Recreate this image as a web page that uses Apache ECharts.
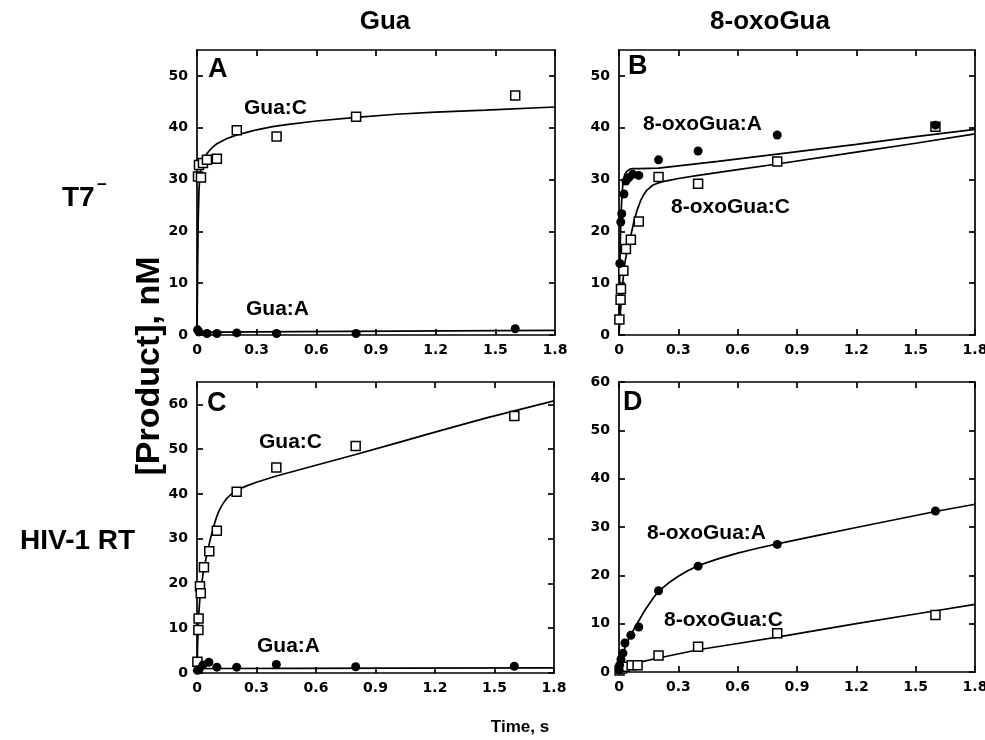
<!DOCTYPE html>
<html><head><meta charset="utf-8">
<script src="https://cdn.jsdelivr.net/npm/echarts@6/dist/echarts.min.js"></script>
<style>html,body{margin:0;padding:0;background:#fff}#c{width:985px;height:740px}</style>
</head><body><div id="c"></div>
<script>
// ---- tick labels ----
const xTicks = [0, 0.3, 0.6, 0.9, 1.2, 1.5, 1.8];
const yTicksTop = [0, 10, 20, 30, 40, 50];
const yTicksC = [0, 10, 20, 30, 40, 50, 60];
const yTicksD = [0, 10, 20, 30, 40, 50, 60];
const yMaxes = [55, 55, 65, 60];

// ---- Panel A (T7-, Gua) ----
const aGuaC_t = [0.005, 0.01, 0.02, 0.03, 0.05, 0.1, 0.2, 0.4, 0.8, 1.6];
const aGuaC_y = [30.6, 32.8, 30.4, 33.2, 33.8, 34.0, 39.5, 38.3, 42.1, 46.2];
const aGuaA_t = [0.003, 0.01, 0.05, 0.1, 0.2, 0.4, 0.8, 1.6];
const aGuaA_y = [1.0, 0.6, 0.3, 0.3, 0.4, 0.3, 0.3, 1.2];
const aFitC_t = [0, 0.003, 0.006, 0.01, 0.015, 0.02, 0.03, 0.04, 0.05, 0.065, 0.08, 0.1, 0.12, 0.15, 0.2, 0.25, 0.3, 0.38, 0.45, 0.6, 0.8, 1.0, 1.2, 1.45, 1.8];
const aFitC_y = [0, 12, 22, 28, 31, 32.3, 33.5, 34.3, 35, 35.7, 36.3, 36.9, 37.3, 37.9, 38.6, 39.1, 39.6, 40.2, 40.6, 41.3, 42, 42.6, 43, 43.4, 44.0];
const aFitA_t = [0, 0.005, 0.02, 0.1, 0.5, 1.0, 1.8];
const aFitA_y = [0, 0.4, 0.5, 0.55, 0.65, 0.75, 0.9];

// ---- Panel B (T7-, 8-oxoGua) ----
const bOxoA_t = [0.004, 0.009, 0.014, 0.025, 0.035, 0.05, 0.07, 0.1, 0.2, 0.4, 0.8, 1.6];
const bOxoA_y = [13.8, 21.8, 23.4, 27.2, 29.7, 30.4, 31.0, 30.8, 33.8, 35.5, 38.6, 40.5];
const bOxoC_t = [0.002, 0.008, 0.01, 0.022, 0.035, 0.06, 0.1, 0.2, 0.4, 0.8, 1.6];
const bOxoC_y = [3.0, 6.8, 8.9, 12.4, 16.6, 18.4, 21.9, 30.5, 29.2, 33.5, 40.2];
const bFitA_t = [0, 0.003, 0.006, 0.01, 0.015, 0.02, 0.025, 0.03, 0.038, 0.045, 0.055, 0.07, 0.1, 0.2, 0.5, 0.8, 1.2, 1.5, 1.8];
const bFitA_y = [0, 10, 17, 23, 27, 29.3, 30.4, 31.0, 31.5, 31.8, 32.0, 32.1, 32.1, 32.2, 33.5, 34.9, 36.8, 38.3, 39.7];
const bFitC_t = [0, 0.005, 0.01, 0.02, 0.03, 0.045, 0.06, 0.075, 0.09, 0.11, 0.125, 0.14, 0.155, 0.17, 0.195, 0.22, 0.26, 0.3, 0.4, 0.6, 0.8, 1.2, 1.5, 1.8];
const bFitC_y = [0, 3, 6, 10.5, 14, 17, 19.2, 21.8, 23.9, 26, 27.1, 27.9, 28.4, 28.9, 29.3, 29.6, 29.9, 30.2, 30.8, 31.9, 33.0, 35.3, 37.0, 38.8];

// ---- Panel C (HIV-1 RT, Gua) ----
const cGuaC_t = [0.002, 0.007, 0.008, 0.015, 0.019, 0.035, 0.062, 0.1, 0.2, 0.4, 0.8, 1.6];
const cGuaC_y = [2.5, 9.6, 12.2, 19.4, 17.8, 23.6, 27.2, 31.8, 40.5, 45.9, 50.7, 57.4];
const cGuaA_t = [0.002, 0.01, 0.03, 0.06, 0.1, 0.2, 0.4, 0.8, 1.6];
const cGuaA_y = [0.6, 0.8, 1.8, 2.4, 1.3, 1.3, 1.9, 1.4, 1.5];
const cFitC_t = [0, 0.003, 0.007, 0.015, 0.03, 0.045, 0.06, 0.07, 0.08, 0.09, 0.1, 0.11, 0.12, 0.135, 0.15, 0.175, 0.2, 0.25, 0.3, 0.4, 0.6, 0.8, 1.0, 1.2, 1.46, 1.8];
const cFitC_y = [0, 6, 12, 17, 22, 25.5, 28.5, 30.4, 32, 33.6, 35, 36.1, 37, 38.1, 39, 40, 40.8, 41.8, 42.6, 44, 46.4, 48.8, 51.3, 53.8, 57, 60.8];
const cFitA_t = [0, 0.005, 0.02, 0.1, 0.5, 1.0, 1.8];
const cFitA_y = [0, 0.7, 0.95, 1.0, 1.05, 1.1, 1.15];

// ---- Panel D (HIV-1 RT, 8-oxoGua) ----
const dOxoA_t = [0.001, 0.003, 0.01, 0.02, 0.03, 0.06, 0.1, 0.2, 0.4, 0.8, 1.6];
const dOxoA_y = [0.4, 1.4, 2.6, 3.9, 6.0, 7.6, 9.3, 16.8, 21.9, 26.4, 33.3];
const dOxoC_t = [0.003, 0.015, 0.03, 0.064, 0.094, 0.2, 0.4, 0.8, 1.6];
const dOxoC_y = [0.3, 0.7, 1.1, 1.4, 1.4, 3.4, 5.2, 8.0, 11.8];
const dFitA_t = [0, 0.01, 0.02, 0.03, 0.05, 0.075, 0.1, 0.125, 0.15, 0.175, 0.2, 0.25, 0.3, 0.35, 0.4, 0.5, 0.6, 0.7, 0.8, 1.0, 1.2, 1.6, 1.8];
const dFitA_y = [0, 2.0, 3.6, 5.0, 7.0, 8.8, 10.6, 12.4, 13.9, 15.4, 16.7, 18.4, 19.8, 21.0, 22.0, 23.4, 24.6, 25.6, 26.5, 28.2, 29.9, 33.2, 34.7];
const dFitC_t = [0, 0.01, 0.03, 0.06, 0.1, 0.2, 0.4, 0.6, 0.8, 1.0, 1.2, 1.5, 1.8];
const dFitC_y = [0, 0.6, 1.2, 1.6, 2.0, 2.9, 4.6, 5.9, 7.2, 8.6, 10.0, 12.0, 14.0];

const zip = (t, y) => t.map((v, i) => [v, y[i]]);

const grids = [
  {left: 197, top: 50, width: 358, height: 285, outerBoundsMode: 'none'},
  {left: 619, top: 50, width: 356, height: 285, outerBoundsMode: 'none'},
  {left: 197, top: 382, width: 357, height: 291, outerBoundsMode: 'none'},
  {left: 619, top: 382, width: 356, height: 290, outerBoundsMode: 'none'}
];
const yTickSets = [yTicksTop, yTicksTop, yTicksC, yTicksD];

const lineSt = {color: '#000', width: 1.7};
const tickLbl = {fontFamily: 'DejaVu Sans', fontWeight: 'bold', fontSize: 14, color: '#000'};
const xAxes = [], yAxes = [];
grids.forEach((g, i) => {
  const common = {type: 'value', gridIndex: i, splitLine: {show: false},
    axisLine: {show: true, onZero: false, lineStyle: lineSt}};
  xAxes.push(Object.assign({}, common, {position: 'bottom', min: 0, max: 1.8,
    axisTick: {show: true, inside: true, length: 6, lineStyle: lineSt, customValues: xTicks},
    axisLabel: Object.assign({customValues: xTicks, margin: 8, formatter: v => String(v)}, tickLbl)}));
  xAxes.push(Object.assign({}, common, {position: 'top', min: 0, max: 1.8,
    axisTick: {show: true, inside: true, length: 6, lineStyle: lineSt, customValues: xTicks},
    axisLabel: {show: false}}));
  yAxes.push(Object.assign({}, common, {position: 'left', min: 0, max: yMaxes[i],
    axisTick: {show: true, inside: true, length: 6, lineStyle: lineSt, customValues: yTickSets[i]},
    axisLabel: Object.assign({customValues: yTickSets[i], margin: 9}, tickLbl)}));
  yAxes.push(Object.assign({}, common, {position: 'right', min: 0, max: yMaxes[i],
    axisTick: {show: true, inside: true, length: 6, lineStyle: lineSt, customValues: yTickSets[i]},
    axisLabel: {show: false}}));
});

const series = [];
function fit(i, t, y) {
  series.push({type: 'line', xAxisIndex: 2 * i, yAxisIndex: 2 * i, data: zip(t, y),
    showSymbol: false, symbol: 'none', smooth: false,
    lineStyle: {color: '#000', width: 1.7}, z: 2, silent: true});
}
function squares(i, t, y) {
  series.push({type: 'scatter', xAxisIndex: 2 * i, yAxisIndex: 2 * i, data: zip(t, y),
    symbol: 'rect', symbolSize: 9, itemStyle: {color: '#fff', borderColor: '#000', borderWidth: 1.5, opacity: 1}, z: 4});
}
function dots(i, t, y) {
  series.push({type: 'scatter', xAxisIndex: 2 * i, yAxisIndex: 2 * i, data: zip(t, y),
    symbol: 'circle', symbolSize: 9, itemStyle: {color: '#000', opacity: 1}, z: 5});
}
fit(0, aFitC_t, aFitC_y); fit(0, aFitA_t, aFitA_y); squares(0, aGuaC_t, aGuaC_y); dots(0, aGuaA_t, aGuaA_y);
fit(1, bFitA_t, bFitA_y); fit(1, bFitC_t, bFitC_y); squares(1, bOxoC_t, bOxoC_y); dots(1, bOxoA_t, bOxoA_y);
fit(2, cFitC_t, cFitC_y); fit(2, cFitA_t, cFitA_y); squares(2, cGuaC_t, cGuaC_y); dots(2, cGuaA_t, cGuaA_y);
fit(3, dFitA_t, dFitA_y); fit(3, dFitC_t, dFitC_y); squares(3, dOxoC_t, dOxoC_y); dots(3, dOxoA_t, dOxoA_y);

const F = 'Liberation Sans, Arial, sans-serif';
function txt(text, x, y, size, align, extra) {
  return Object.assign({type: 'text', x: x, y: y, z: 10, silent: true,
    style: {text: text, fill: '#000', font: 'bold ' + size + 'px ' + F,
      align: align || 'left', verticalAlign: 'middle', textAlign: align || 'left', textVerticalAlign: 'middle'}}, extra || {});
}
const graphics = [
  txt('Gua', 385, 22, 26, 'center'),
  txt('8-oxoGua', 770, 22, 26, 'center'),
  txt('T7', 62, 198, 28, 'left'),
  txt('\u2212', 97, 185, 17, 'left'),
  txt('HIV-1 RT', 20, 541, 28, 'left'),
  txt('[Product], nM', 150, 366, 34, 'center', {rotation: Math.PI / 2}),
  txt('Time, s', 520, 727, 17, 'center'),
  txt('A', 208, 70, 27, 'left'),
  txt('B', 628, 67, 27, 'left'),
  txt('C', 207, 404, 27, 'left'),
  txt('D', 623, 403, 27, 'left'),
  txt('Gua:C', 244, 108, 21, 'left'),
  txt('Gua:A', 246, 309, 21, 'left'),
  txt('8-oxoGua:A', 643, 124, 21, 'left'),
  txt('8-oxoGua:C', 671, 207, 21, 'left'),
  txt('Gua:C', 259, 442, 21, 'left'),
  txt('Gua:A', 257, 646, 21, 'left'),
  txt('8-oxoGua:A', 647, 533, 21, 'left'),
  txt('8-oxoGua:C', 664, 620, 21, 'left')
];

const chart = echarts.init(document.getElementById('c'), null, {renderer: 'canvas'});
chart.setOption({
  animation: false,
  backgroundColor: '#fff',
  grid: grids,
  xAxis: xAxes,
  yAxis: yAxes,
  series: series,
  graphic: graphics
});
</script>
</body></html>
